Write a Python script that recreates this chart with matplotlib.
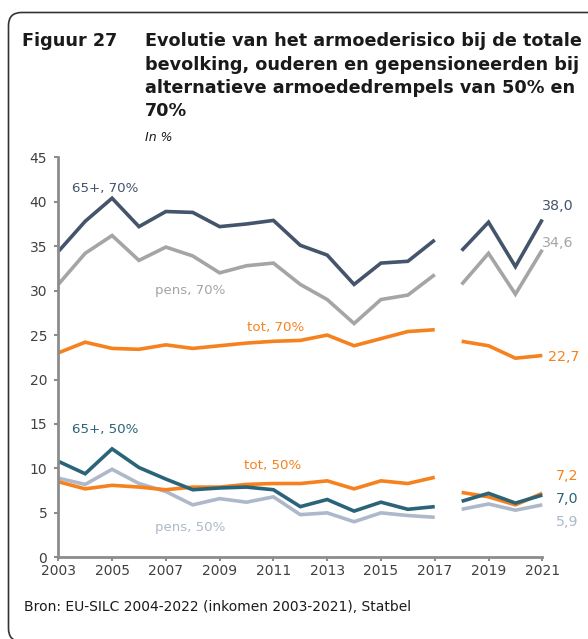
import numpy as np
import matplotlib
matplotlib.use("Agg")
import matplotlib.pyplot as plt
from matplotlib.patches import FancyBboxPatch

plt.rcParams['font.family'] = ['DejaVu Sans']

years = list(range(2003, 2022))
break_after = 2017  # series are interrupted between 2017 and 2018

sen70 = [34.4, 37.8, 40.4, 37.2, 38.9, 38.8, 37.2, 37.5, 37.9, 35.1, 34.0, 30.7, 33.1, 33.3, 35.7,
         34.5, 37.7, 32.7, 38.0]
pens70 = [30.7, 34.2, 36.2, 33.4, 34.9, 33.9, 32.0, 32.8, 33.1, 30.7, 29.0, 26.3, 29.0, 29.5, 31.8,
          30.7, 34.2, 29.6, 34.6]
tot70 = [23.0, 24.2, 23.5, 23.4, 23.9, 23.5, 23.8, 24.1, 24.3, 24.4, 25.0, 23.8, 24.6, 25.4, 25.6,
         24.3, 23.8, 22.4, 22.7]
sen50 = [10.8, 9.4, 12.2, 10.1, 8.8, 7.6, 7.8, 7.9, 7.6, 5.7, 6.5, 5.2, 6.2, 5.4, 5.7,
         6.3, 7.2, 6.1, 7.0]
pens50 = [8.9, 8.2, 9.9, 8.3, 7.4, 5.9, 6.6, 6.2, 6.8, 4.8, 5.0, 4.0, 5.0, 4.7, 4.5,
          5.4, 6.0, 5.3, 5.9]
tot50 = [8.5, 7.7, 8.1, 7.9, 7.6, 7.9, 7.9, 8.2, 8.3, 8.3, 8.6, 7.7, 8.6, 8.3, 9.0,
         7.3, 6.8, 5.9, 7.2]

series_names = ["65+, 70%", "pens, 70%", "tot, 70%", "65+, 50%", "tot, 50%", "pens, 50%"]
end_labels = ["38,0", "34,6", "22,7", "7,0", "7,2", "5,9"]
xticks = [2003, 2005, 2007, 2009, 2011, 2013, 2015, 2017, 2019, 2021]
yticks = [0, 5, 10, 15, 20, 25, 30, 35, 40, 45]

c_navy = "#44546A"
c_grey = "#A5A5A5"
c_orange = "#F5821F"
c_teal = "#2A6478"
c_lblue = "#ADB9CA"
c_axis = "#8C8C8C"
c_text = "#404040"

fig = plt.figure(figsize=(5.88, 6.39), dpi=100)
fig.patch.set_facecolor("white")

# Rounded frame (in inches; runs off the right edge and just past the bottom)
frame = FancyBboxPatch((0.085, -0.025), 7.0, (641 - 12.5) / 100 + 0.005,
                       boxstyle="round,pad=0,rounding_size=0.13",
                       transform=fig.dpi_scale_trans, facecolor="none",
                       edgecolor="#333333", linewidth=1.2, clip_on=False)
fig.patches.append(frame)

ax = fig.add_axes([58.3 / 588, 1 - 557.3 / 639, (542.3 - 58.3) / 588, 400 / 639])

yrs = np.array(years)
seg1 = yrs <= break_after
seg2 = yrs > break_after

def draw(vals, color):
    v = np.array(vals)
    for m in (seg1, seg2):
        ax.plot(yrs[m], v[m], color=color, lw=2.6, solid_joinstyle="miter",
                solid_capstyle="butt", clip_on=False)

draw(pens50, c_lblue)
draw(tot50, c_orange)
draw(sen50, c_teal)
draw(tot70, c_orange)
draw(pens70, c_grey)
draw(sen70, c_navy)

ax.set_xlim(2003, 2021)
ax.set_ylim(0, 45)
ax.set_xticks(xticks)
ax.set_yticks(yticks)
for s in ("top", "right"):
    ax.spines[s].set_visible(False)
for s in ("left", "bottom"):
    ax.spines[s].set_color(c_axis)
    ax.spines[s].set_linewidth(2.0)
ax.tick_params(axis="both", colors=c_axis, labelcolor=c_text, labelsize=10,
               length=3, width=1.5)
ax.tick_params(axis="y", pad=5)
ax.tick_params(axis="x", pad=2)

lab_fs = 9.6
# in-chart series labels
ax.text(2003.5, 41.5, series_names[0], color=c_navy, fontsize=lab_fs, va="center", ha="left")
ax.text(2006.6, 30.0, series_names[1], color=c_grey, fontsize=lab_fs, va="center", ha="left")
ax.text(2010.0, 25.9, series_names[2], color=c_orange, fontsize=lab_fs, va="center", ha="left")
ax.text(2003.5, 14.4, series_names[3], color=c_teal, fontsize=lab_fs, va="center", ha="left")
ax.text(2009.9, 10.3, series_names[4], color=c_orange, fontsize=lab_fs, va="center", ha="left")
ax.text(2006.6, 3.3, series_names[5], color=c_lblue, fontsize=lab_fs, va="center", ha="left")

# end labels
end_fs = 10.3
ax.text(2021.0, 39.5, end_labels[0], color=c_navy, fontsize=end_fs, va="center", ha="left", clip_on=False)
ax.text(2021.0, 35.4, end_labels[1], color=c_grey, fontsize=end_fs, va="center", ha="left", clip_on=False)
ax.text(2021.2, 22.5, end_labels[2], color=c_orange, fontsize=end_fs, va="center", ha="left", clip_on=False)
ax.text(2021.5, 9.2, end_labels[4], color=c_orange, fontsize=end_fs, va="center", ha="left", clip_on=False)
ax.text(2021.5, 6.6, end_labels[3], color=c_teal, fontsize=end_fs, va="center", ha="left", clip_on=False)
ax.text(2021.5, 4.0, end_labels[5], color=c_lblue, fontsize=end_fs, va="center", ha="left", clip_on=False)

# Title
title_fs = 12.7
fig.text(22 / 588, 1 - 41.5 / 639, "Figuur 27", fontsize=title_fs, fontweight="bold",
         color="#1a1a1a", va="center", ha="left")
title_lines = ["Evolutie van het armoederisico bij de totale",
               "bevolking, ouderen en gepensioneerden bij",
               "alternatieve armoededrempels van 50% en",
               "70%"]
for i, line in enumerate(title_lines):
    fig.text(145 / 588, 1 - (41.5 + 23.3 * i) / 639, line, fontsize=title_fs,
             fontweight="bold", color="#1a1a1a", va="center", ha="left")
fig.text(145 / 588, 1 - 137.5 / 639, "In %", fontsize=9, fontstyle="italic",
         color="#1a1a1a", va="center", ha="left")

fig.text(24 / 588, 1 - 607 / 639, "Bron: EU-SILC 2004-2022 (inkomen 2003-2021), Statbel",
         fontsize=10, color="#1a1a1a", va="center", ha="left")

fig.savefig("out.png", dpi=100, facecolor="white")
